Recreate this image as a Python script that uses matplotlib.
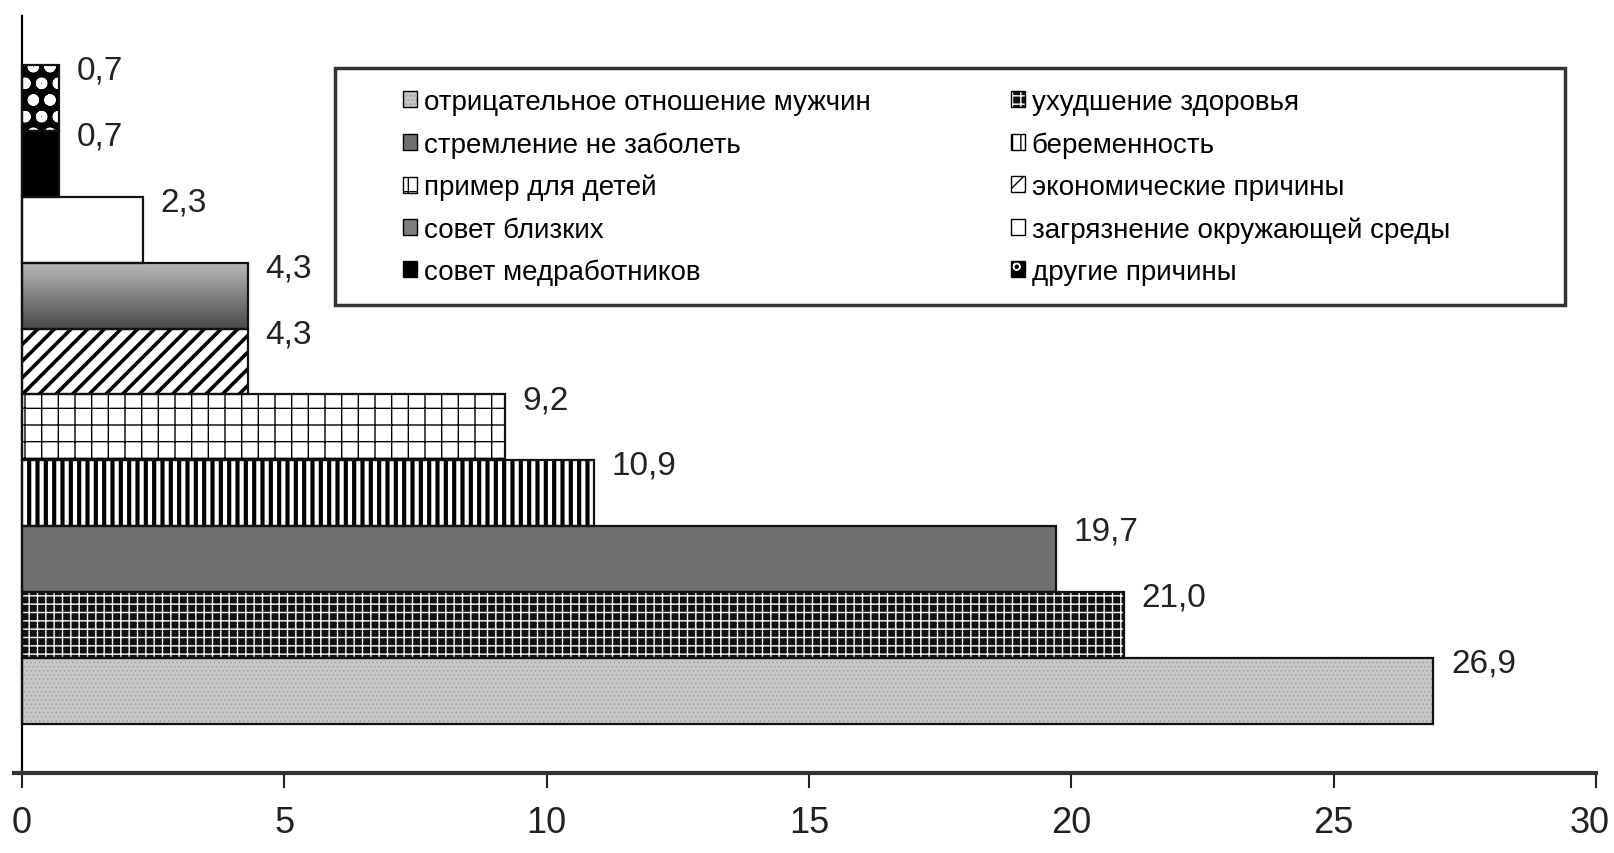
import numpy as np
import matplotlib.pyplot as plt
from matplotlib.patches import Patch, Rectangle
from matplotlib.colors import LinearSegmentedColormap
from matplotlib.legend_handler import HandlerTuple
from matplotlib.transforms import ScaledTranslation

# data, bottom bar first
reasons = ["отрицательное отношение мужчин", "ухудшение здоровья", "стремление не заболеть",
           "беременность", "пример для детей", "экономические причины", "совет близких",
           "загрязнение окружающей среды", "совет медработников", "другие причины"]
values = [26.9, 21.0, 19.7, 10.9, 9.2, 4.3, 4.3, 2.3, 0.7, 0.7]
value_labels = ["26,9", "21,0", "19,7", "10,9", "9,2", "4,3", "4,3", "2,3", "0,7", "0,7"]
xticks = [0, 5, 10, 15, 20, 25, 30]
legend_order = [0, 2, 4, 6, 8, 1, 3, 5, 7, 9]

# face, hatch, hatch colour, hatch linewidth
styles = [
    ("#c8c8c8", "....", "#a0a0a0", 0.6),
    ("#111111", "++", "white", 1.0),
    ("#707070", None, "black", 1.0),
    ("white", "||", "black", 3.0),
    ("white", "+", "black", 1.0),
    ("white", "//", "black", 2.6),
    ("#7e7e7e", None, "black", 1.0),
    ("white", None, "black", 1.0),
    ("black", None, "black", 1.0),
    ("black", "o", "white", 3.5),
]

narrow = ['Liberation Sans Narrow', 'Liberation Sans', 'DejaVu Sans']
regular = ['Liberation Sans', 'DejaVu Sans']

fig = plt.figure(figsize=(16.14, 8.54), dpi=100)
ax = fig.add_axes([0.00874, 0.09368, 0.98011, 0.88642])

y = np.arange(len(values))
handles = []
for i, v in enumerate(values):
    face, hatch, hc, hlw = styles[i]
    with plt.rc_context({'hatch.color': hc, 'hatch.linewidth': hlw}):
        ax.barh(i, v, height=1.0, color=face, hatch=hatch, linewidth=0, zorder=2)
        sw = Patch(facecolor=face, hatch=hatch, linewidth=0)
    handles.append((sw, Patch(fill=False, edgecolor='black', linewidth=1)))

# gradient for "совет близких"
grad_cmap = LinearSegmentedColormap.from_list("g", ["#b8b8b8", "#4a4a4a"])
ax.imshow(np.linspace(0, 1, 60).reshape(-1, 1), extent=[0, values[6], 5.5, 6.5],
          cmap=grad_cmap, aspect='auto', origin='upper', zorder=2.5)

# outlines
ax.barh(y, values, height=1.0, fill=False, edgecolor='#111111', linewidth=1.6, zorder=3)

for i, v in enumerate(values):
    ax.annotate(value_labels[i], (v, i), xytext=(13, 20), textcoords='offset points',
                ha='left', va='center', fontsize=24, color='#222222',
                family=narrow, fontstretch='condensed')

ax.set_xlim(-0.15, 30)
ax.set_ylim(-1.25, 10.25)
ax.set_xticks(xticks)
ax.set_xticklabels([str(t) for t in xticks], family=narrow, fontstretch='condensed',
                   fontsize=26, color='#222222')
ax.tick_params(axis='x', length=11, width=1.5, pad=12, colors='#222222')
# keep the last label inside the figure
last = ax.get_xticklabels()[-1]
last.set_transform(last.get_transform() + ScaledTranslation(-6 / 100, 0, fig.dpi_scale_trans))
ax.set_yticks([])
ax.spines['top'].set_visible(False)
ax.spines['right'].set_visible(False)
ax.spines['left'].set_position(('data', 0))
ax.spines['left'].set_linewidth(1.6)
ax.spines['bottom'].set_linewidth(3)
ax.spines['bottom'].set_color('#333333')

leg = ax.legend([handles[k] for k in legend_order], [reasons[k] for k in legend_order],
                handler_map={tuple: HandlerTuple(ndivide=1, pad=0)},
                ncol=2, loc='upper left', bbox_to_anchor=(0.2497, 0.8943),
                bbox_transform=fig.transFigure, prop={'family': regular, 'size': 20},
                frameon=False, borderpad=0,
                handlelength=0.5, handleheight=0.5, handletextpad=0.25,
                labelspacing=0.58, columnspacing=5.05, borderaxespad=0)
leg.set_zorder(5)
# legend frame
fig.patches.append(Rectangle((0.2076, 0.6417), 0.7621, 0.2775, transform=fig.transFigure,
                             fill=False, edgecolor='#333333', linewidth=2.5, zorder=4))

fig.savefig('out.png', dpi=100)
